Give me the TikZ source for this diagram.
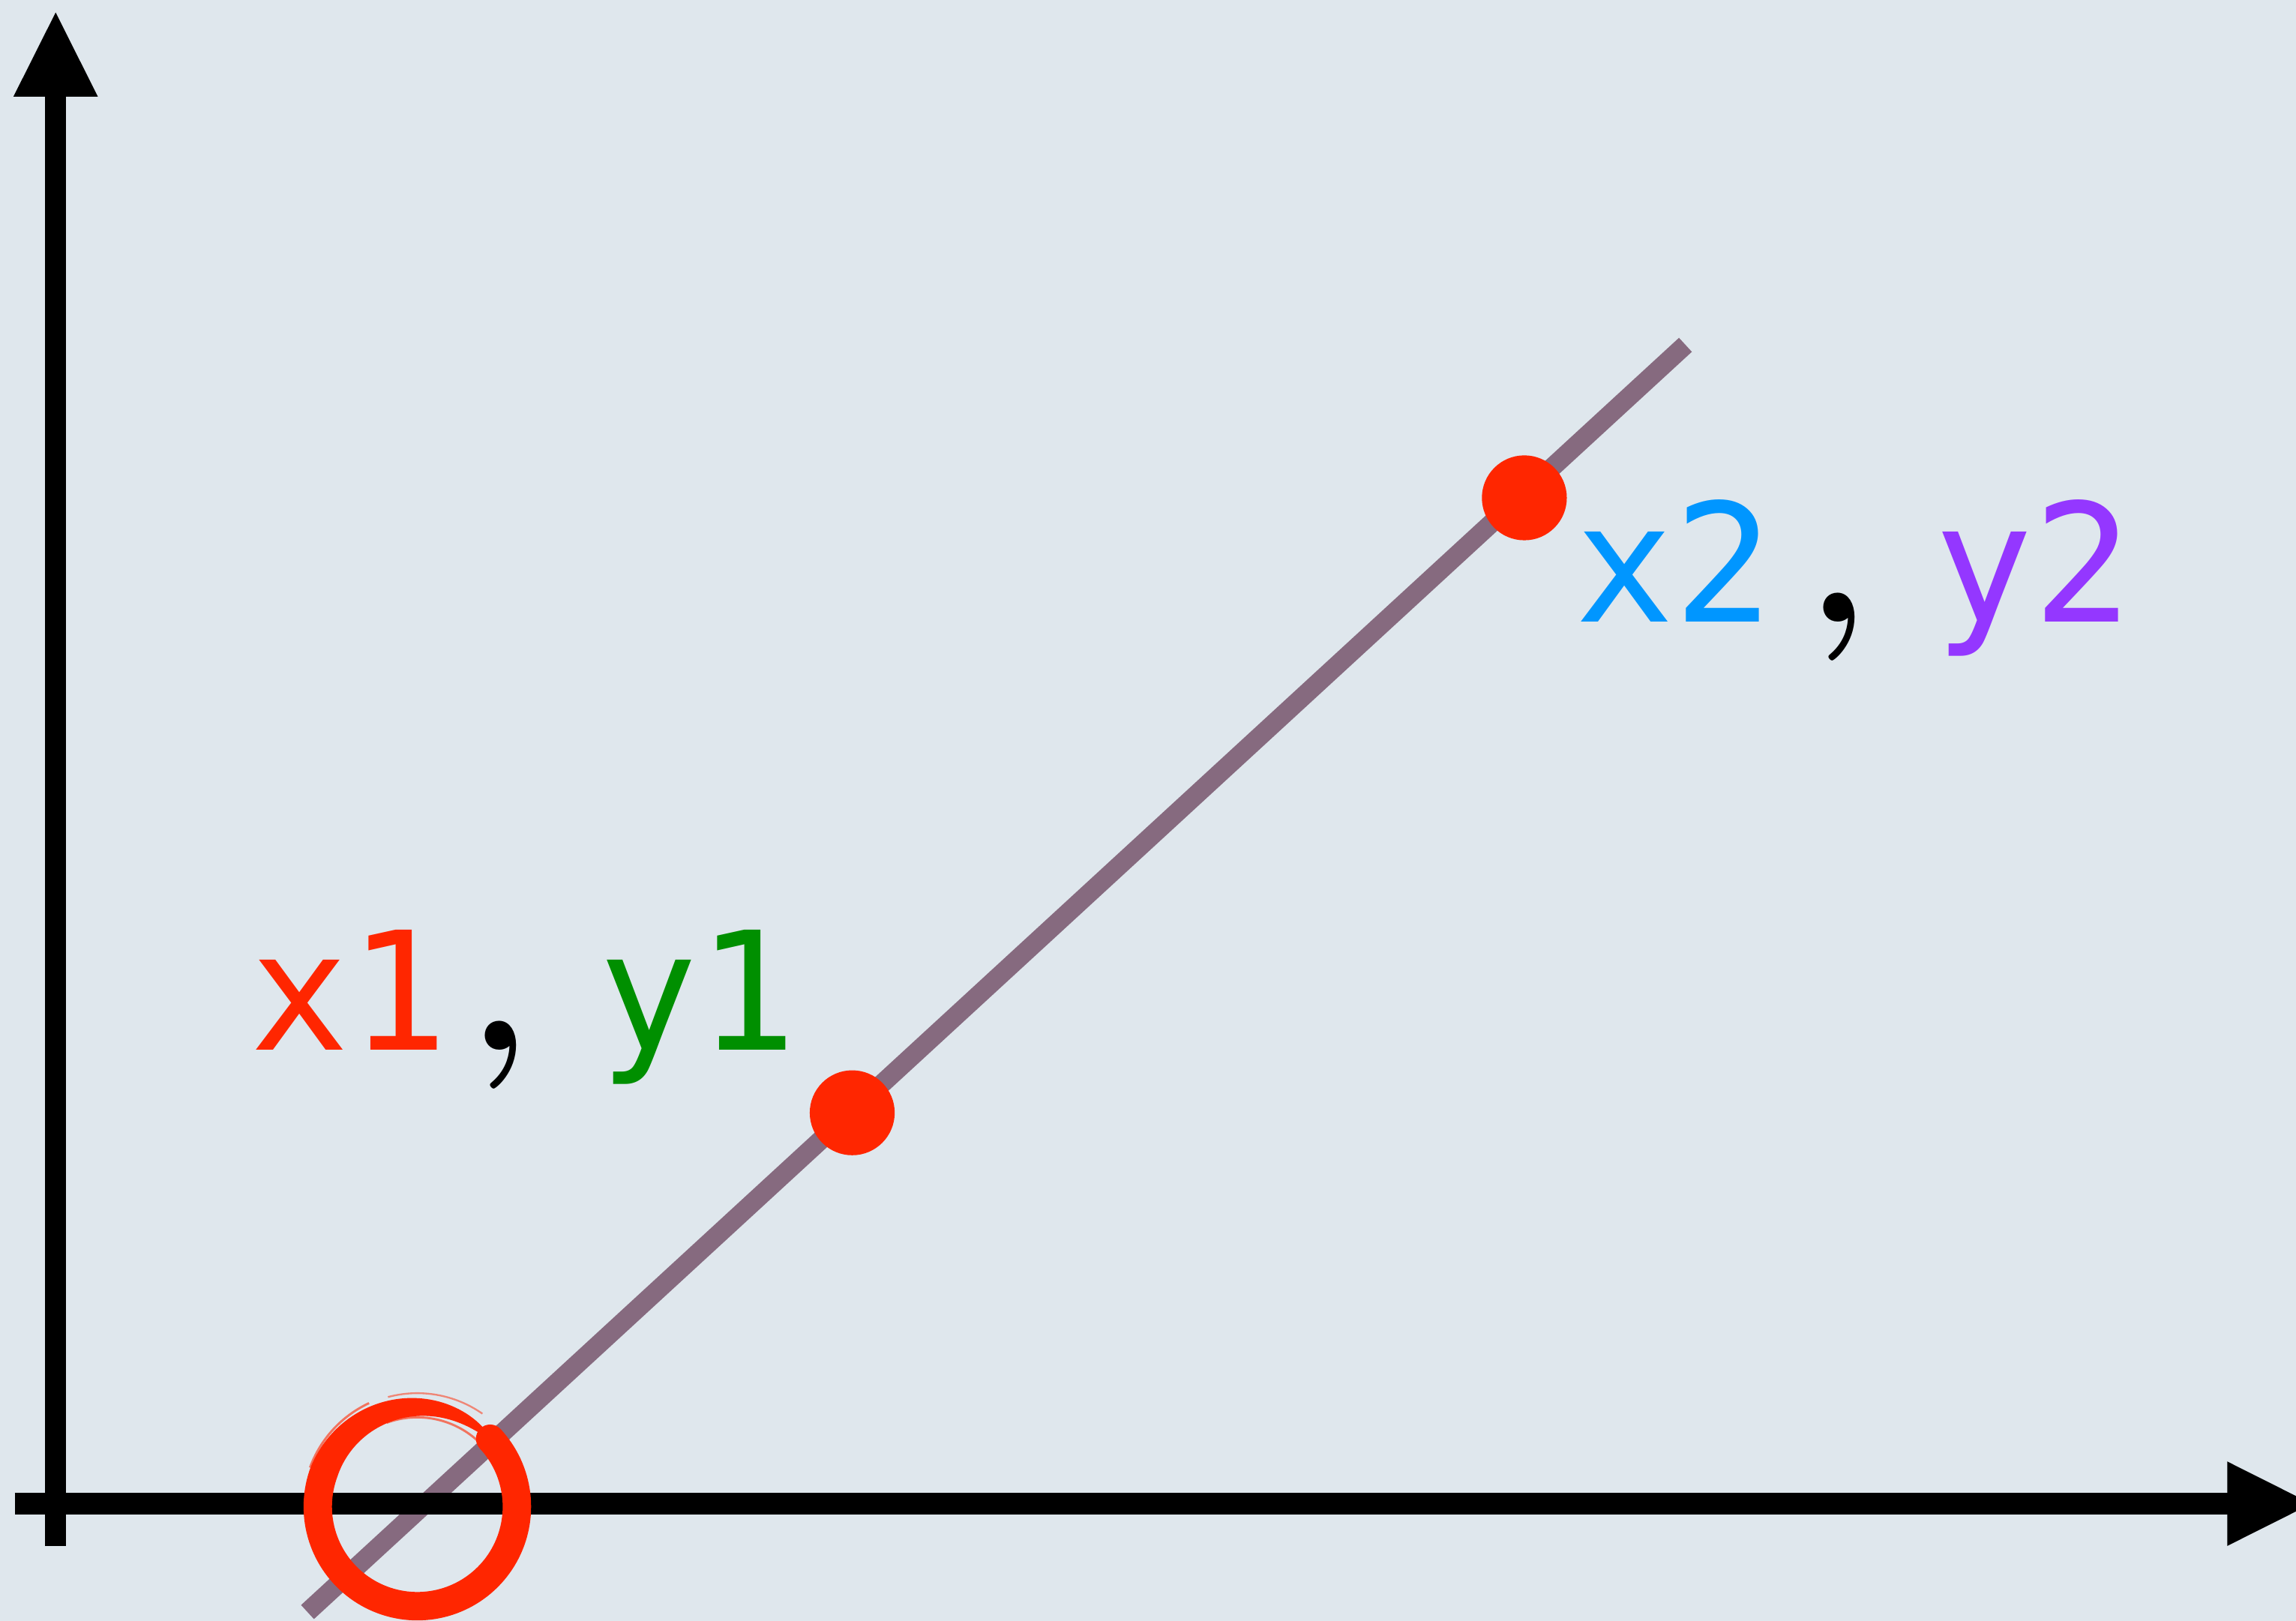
\documentclass[tikz,border=0pt]{standalone}
\usepackage{fontspec}
\setmainfont{DejaVu Sans}
\setmonofont{DejaVu Sans Mono}
\newfontfamily\commafont{Latin Modern Roman}
\usetikzlibrary{arrows.meta}
\definecolor{bgblue}{HTML}{DFE7ED}
\definecolor{linegray}{HTML}{866A7F}
\definecolor{crayonred}{HTML}{FF2600}
\definecolor{crayongreen}{HTML}{008F00}
\definecolor{crayonblue}{HTML}{0096FF}
\definecolor{crayonpurple}{HTML}{9437FF}
\tikzset{
  axis/.style={line width=0.145cm, -{Triangle[length=0.59cm, width=0.53cm]}},
  trend/.style={line width=0.13cm, draw=linegray},
  point/.style={circle, fill=crayonred, minimum size=0.58cm, inner sep=0pt},
  coordlabel/.style={anchor=base west, inner sep=0pt, font=\ttfamily\fontsize{32}{38}\selectfont},
  sep/.style={anchor=base west, inner sep=0pt, font=\commafont\bfseries\fontsize{39}{42}\selectfont},
  brush/.style={draw=crayonred, line cap=butt},
  declare function={bw(\t)=0.097*sqrt(min(1,(\t+316)/116));},
}

\begin{document}
\begin{tikzpicture}
    % background and page size
    \fill[bgblue] (0,0) rectangle (15.68,11.07);
    \useasboundingbox (0,0) rectangle (15.68,11.07);
    \clip (0,0) rectangle (15.68,11.07);

    % line through the two points
    \coordinate (lstart) at (2.10,0.06);
    \coordinate (lend) at (11.51,8.715);
    \draw[trend] (lstart) -- (lend);

    % axes
    \coordinate (ybot) at (0.38,0.51);
    \coordinate (ytop) at (0.38,11.00);
    \coordinate (xleft) at (0.10,0.80);
    \coordinate (xright) at (15.80,0.80);
    \draw[axis] (ybot) -- (ytop);
    \draw[axis] (xleft) -- (xright);

    % the two points
    \node[point] (pone) at (5.82,3.47) {};
    \node[point] (ptwo) at (10.41,7.67) {};

    % labels of the points
    \node[coordlabel, text=crayonred] (xone) at (1.70,3.90) {x1};
    \node[sep] (cone) at (3.19,3.90) {,};
    \node[coordlabel, text=crayongreen] (yone) at (4.08,3.90) {y1};
    \node[coordlabel, text=crayonblue] (xtwo) at (10.75,6.82) {x2};
    \node[sep] (ctwo) at (12.33,6.82) {,};
    \node[coordlabel, text=crayonpurple] (ytwo) at (13.20,6.82) {y2};

    % brush circle round the crossing
    \coordinate (ring) at (2.85,0.78);
    \begin{scope}[shift={(ring)}]
      \fill[crayonred] plot[domain=43:-315.5, samples=160] (\x:{0.68+bw(\x)})
        -- plot[domain=-315.5:43, samples=160] (\x:{0.68-bw(\x)}) -- cycle;
      \fill[crayonred] (43:0.68) circle[radius=0.097];
      \draw[brush, line width=0.015cm, opacity=0.6] (-250:0.61) arc[start angle=-250, end angle=-312, radius=0.61];
      \draw[brush, line width=0.015cm, opacity=0.6] (-200:0.78) arc[start angle=-200, end angle=-245, radius=0.78];
      \draw[brush, line width=0.012cm, opacity=0.5] (-255:0.775) arc[start angle=-255, end angle=-305, radius=0.775];
    \end{scope}
\end{tikzpicture}
\end{document}
